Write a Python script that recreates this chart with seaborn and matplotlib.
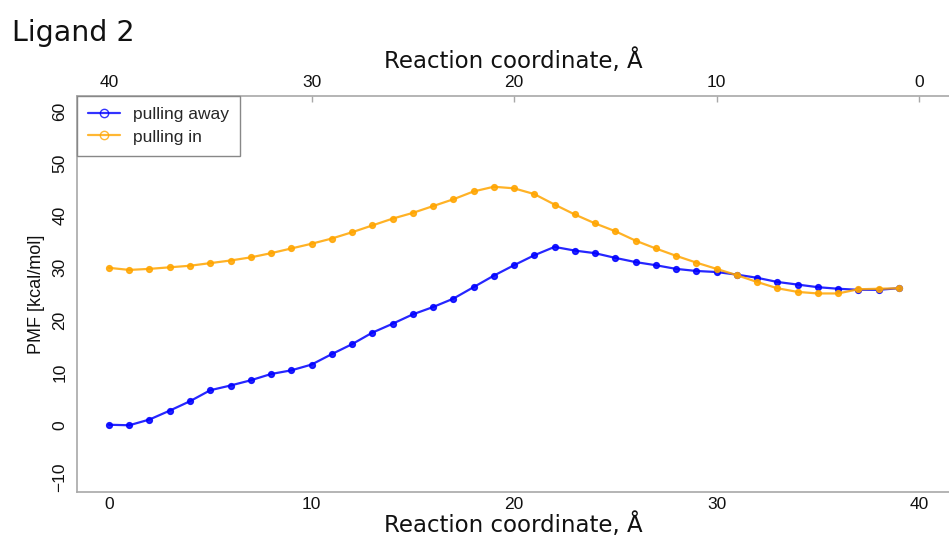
import numpy as np
import pandas as pd
import matplotlib
matplotlib.use("Agg")
import matplotlib.pyplot as plt
import seaborn as sns

# Umbrella-sampling PMF profiles along the reaction coordinate
coordinate = list(range(40))
pulling_away = [0.0, -0.1, 1.0, 2.7, 4.5, 6.6, 7.5, 8.5, 9.7, 10.4,
                11.5, 13.5, 15.4, 17.6, 19.3, 21.1, 22.5, 24.1, 26.3, 28.5,
                30.5, 32.4, 34.0, 33.3, 32.8, 31.9, 31.1, 30.5, 29.8, 29.4,
                29.2, 28.7, 28.1, 27.3, 26.8, 26.3, 26.0, 25.8, 25.8, 26.1]
pulling_in = [30.0, 29.6, 29.8, 30.1, 30.4, 30.9, 31.4, 32.0, 32.8, 33.7,
              34.6, 35.6, 36.8, 38.1, 39.4, 40.5, 41.8, 43.1, 44.6, 45.5,
              45.2, 44.1, 42.1, 40.2, 38.5, 37.0, 35.2, 33.7, 32.3, 31.0,
              29.8, 28.6, 27.3, 26.1, 25.4, 25.1, 25.1, 25.9, 26.0, 26.1]
series_names = ["pulling away", "pulling in"]
series_colors = ["#0000FF", "#FFA500"]
bottom_ticks = [0, 10, 20, 30, 40]
top_ticks = [40, 30, 20, 10, 0]
y_ticks = [-10, 0, 10, 20, 30, 40, 50, 60]

sns.set_theme(style="white")
plt.rcParams["font.family"] = ["Liberation Sans", "DejaVu Sans"]

fig = plt.figure(figsize=(9.49, 5.43), dpi=100)
ax = fig.add_axes([77 / 949, 1 - 491.7 / 543, 1 - 77 / 949, (491.7 - 96) / 543])

for name, values, color in zip(series_names, [pulling_away, pulling_in], series_colors):
    df = pd.DataFrame({"coord": coordinate, "pmf": values})
    sns.lineplot(data=df, x="coord", y="pmf", ax=ax, color=color, label=name,
                 marker="o", markersize=4.2, markeredgecolor=color,
                 markeredgewidth=1.0, linewidth=1.6, alpha=0.85)

ax.set_xlim(-1.58, 41.48)
ax.set_ylim(-12.8, 62.85)
ax.set_xticks(bottom_ticks)
ax.set_yticks(y_ticks)
ax.set_yticklabels([str(t).replace("-", "\u2212") for t in y_ticks],
                   rotation=90, va="center")

spine_color = "#a8a8a8"
for side in ["left", "bottom"]:
    ax.spines[side].set_color(spine_color)
    ax.spines[side].set_linewidth(1.2)
ax.spines["right"].set_visible(False)
ax.spines["top"].set_visible(False)

ax.tick_params(axis="x", direction="in", length=4, width=1, color=spine_color,
               labelsize=12.5, pad=4, labelcolor="#111111")
ax.tick_params(axis="y", direction="out", length=4, width=1, color=spine_color,
               labelsize=12.5, pad=3, labelcolor="#111111")
ax.set_xlabel("Reaction coordinate, \u00c5", fontsize=16.5, family="DejaVu Sans",
              labelpad=0, color="#111111")
ax.set_ylabel("PMF [kcal/mol]", fontsize=13, labelpad=5, color="#111111")

# Top axis shows the distance measured from the other end
top = ax.secondary_xaxis("top", functions=(lambda x: 40 - x, lambda x: 40 - x))
top.set_xticks(top_ticks)
top.spines["top"].set_color(spine_color)
top.spines["top"].set_linewidth(1.2)
top.tick_params(axis="x", direction="in", length=4, width=1, color=spine_color,
                labelsize=12.5, pad=4, labelcolor="#111111")
top.set_xlabel("Reaction coordinate, \u00c5", fontsize=16.5, family="DejaVu Sans",
               labelpad=5, color="#111111")

leg = ax.legend(loc="upper left", borderaxespad=0, fancybox=False,
                edgecolor="#888888", framealpha=1, fontsize=12.5,
                handlelength=1.8, handletextpad=0.75, borderpad=0.65,
                labelspacing=0.4)
leg.get_frame().set_linewidth(1.0)
for h in leg.legend_handles:
    h.set_markerfacecolor("none")
    h.set_markersize(6)
    h.set_alpha(0.8)

fig.text(12 / 949, 1 - 41 / 543, "Ligand 2", fontsize=20.5, family="DejaVu Sans",
         color="#111111")

fig.savefig("out.png", dpi=100)
